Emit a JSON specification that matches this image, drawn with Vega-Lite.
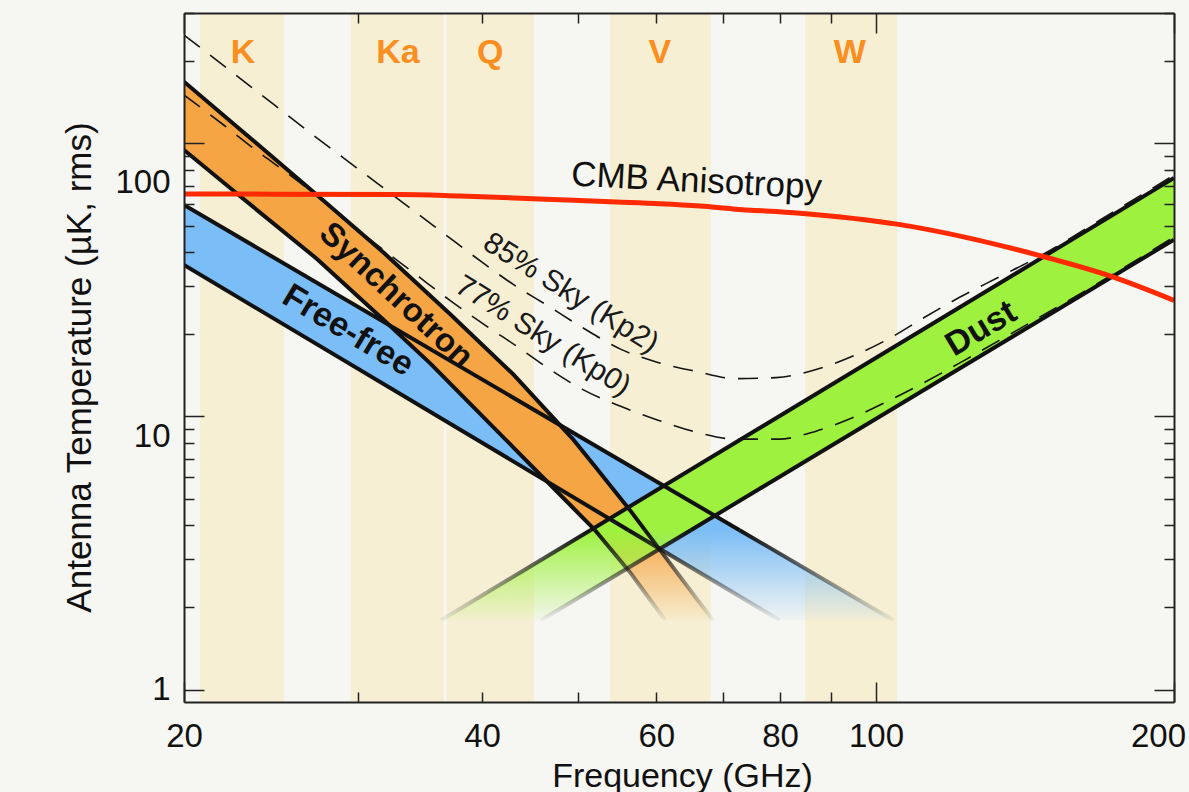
{
  "$schema": "https://vega.github.io/schema/vega-lite/v6.json",
  "width": 990,
  "height": 689,
  "autosize": "none",
  "padding": {"left": 184, "top": 13, "right": 15, "bottom": 90},
  "background": "#f6f6f2",
  "config": {"view": {"stroke": null}, "font": "Liberation Sans"},
  "datasets": {
    "bands": [
      {"band": "K", "f1": 20.76, "f2": 25.24},
      {"band": "Ka", "f1": 29.47, "f2": 36.58},
      {"band": "Q", "f1": 36.84, "f2": 45.15},
      {"band": "V", "f1": 53.88, "f2": 68.08},
      {"band": "W", "f1": 84.8, "f2": 105.0}
    ],
    "syn_area": [
      {"f": 20, "hi": 168.1, "lo": 94.5},
      {"f": 22.84, "hi": 111.7, "lo": 63.58},
      {"f": 27.25, "hi": 64.67, "lo": 37.72},
      {"f": 31.85, "hi": 39.66, "lo": 22.51},
      {"f": 35.44, "hi": 27.7, "lo": 15.67},
      {"f": 37.13, "hi": 23.7, "lo": 13.22},
      {"f": 43.09, "hi": 14.17, "lo": 7.659},
      {"f": 49.31, "hi": 8.328, "lo": 4.669},
      {"f": 52.03, "hi": 6.549, "lo": 3.832},
      {"f": 56.43, "hi": 4.537, "lo": 2.689},
      {"f": 58.44, "hi": 3.832, "lo": 2.261},
      {"f": 61.22, "hi": 3.065, "lo": 1.794},
      {"f": 68.43, "hi": 1.794, "lo": 1.794}
    ],
    "ff_area": [
      {"f": 20, "hi": 59.43, "lo": 35.83},
      {"f": 79.91, "hi": 3.146, "lo": 1.794},
      {"f": 104.13, "hi": 1.794, "lo": 1.794}
    ],
    "dust_area": [
      {"f": 36.36, "hi": 1.794, "lo": 1.794},
      {"f": 45.89, "hi": 2.984, "lo": 1.794},
      {"f": 200, "hi": 74.62, "lo": 44.39}
    ],
    "edges_solid": [
      {"edge": "syn_hi", "f": 20, "v": 168.1},
      {"edge": "syn_hi", "f": 22.84, "v": 111.7},
      {"edge": "syn_hi", "f": 27.25, "v": 64.67},
      {"edge": "syn_hi", "f": 31.85, "v": 39.66},
      {"edge": "syn_hi", "f": 35.44, "v": 27.7},
      {"edge": "syn_hi", "f": 37.13, "v": 23.7},
      {"edge": "syn_hi", "f": 43.09, "v": 14.17},
      {"edge": "syn_hi", "f": 49.31, "v": 8.328},
      {"edge": "syn_hi", "f": 52.03, "v": 6.549},
      {"edge": "syn_hi", "f": 56.43, "v": 4.537},
      {"edge": "syn_hi", "f": 58.44, "v": 3.832},
      {"edge": "syn_lo", "f": 20, "v": 94.5},
      {"edge": "syn_lo", "f": 22.84, "v": 63.58},
      {"edge": "syn_lo", "f": 27.25, "v": 37.72},
      {"edge": "syn_lo", "f": 31.85, "v": 22.51},
      {"edge": "syn_lo", "f": 35.44, "v": 15.67},
      {"edge": "syn_lo", "f": 37.13, "v": 13.22},
      {"edge": "syn_lo", "f": 43.09, "v": 7.659},
      {"edge": "syn_lo", "f": 49.31, "v": 4.669},
      {"edge": "syn_lo", "f": 52.03, "v": 3.832},
      {"edge": "ff_hi", "f": 20, "v": 59.43},
      {"edge": "ff_hi", "f": 72.82, "v": 3.832},
      {"edge": "ff_lo", "f": 20, "v": 35.83},
      {"edge": "ff_lo", "f": 56.25, "v": 3.832},
      {"edge": "dust_hi", "f": 51.47, "v": 3.832},
      {"edge": "dust_hi", "f": 200, "v": 74.62},
      {"edge": "dust_lo", "f": 65.0, "v": 3.832},
      {"edge": "dust_lo", "f": 200, "v": 44.39}
    ],
    "edges_fade": [
      {"edge": "syn_hi", "f": 58.44, "v": 3.832},
      {"edge": "syn_hi", "f": 61.22, "v": 3.065},
      {"edge": "syn_hi", "f": 68.43, "v": 1.794},
      {"edge": "syn_lo", "f": 52.03, "v": 3.832},
      {"edge": "syn_lo", "f": 56.43, "v": 2.689},
      {"edge": "syn_lo", "f": 58.44, "v": 2.261},
      {"edge": "syn_lo", "f": 61.22, "v": 1.794},
      {"edge": "ff_hi", "f": 72.82, "v": 3.832},
      {"edge": "ff_hi", "f": 104.13, "v": 1.794},
      {"edge": "ff_lo", "f": 56.25, "v": 3.832},
      {"edge": "ff_lo", "f": 79.91, "v": 1.794},
      {"edge": "dust_hi", "f": 36.36, "v": 1.794},
      {"edge": "dust_hi", "f": 51.47, "v": 3.832},
      {"edge": "dust_lo", "f": 45.89, "v": 1.794},
      {"edge": "dust_lo", "f": 65.0, "v": 3.832}
    ],
    "sky": [
      {"series": "85", "f": 20, "v": 249.3},
      {"series": "85", "f": 23.32, "v": 162.1},
      {"series": "85", "f": 27.0, "v": 107.3},
      {"series": "85", "f": 31.33, "v": 71.5},
      {"series": "85", "f": 36.45, "v": 47.3},
      {"series": "85", "f": 40.0, "v": 36.7},
      {"series": "85", "f": 43.09, "v": 30.3},
      {"series": "85", "f": 46.63, "v": 25.4},
      {"series": "85", "f": 50.47, "v": 21.2},
      {"series": "85", "f": 55.27, "v": 17.6},
      {"series": "85", "f": 60.09, "v": 15.8},
      {"series": "85", "f": 65.65, "v": 14.65},
      {"series": "85", "f": 72.21, "v": 13.75},
      {"series": "85", "f": 79.25, "v": 13.87},
      {"series": "85", "f": 86.98, "v": 14.84},
      {"series": "85", "f": 94.79, "v": 16.63},
      {"series": "85", "f": 103.31, "v": 19.36},
      {"series": "85", "f": 112.08, "v": 23.11},
      {"series": "85", "f": 121.59, "v": 27.35},
      {"series": "85", "f": 132.52, "v": 32.11},
      {"series": "85", "f": 146.45, "v": 38.66},
      {"series": "85", "f": 168.39, "v": 52.37},
      {"series": "85", "f": 200, "v": 76.5},
      {"series": "77", "f": 20, "v": 150.3},
      {"series": "77", "f": 22.0, "v": 115.7},
      {"series": "77", "f": 23.7, "v": 93.7},
      {"series": "77", "f": 25.59, "v": 76.5},
      {"series": "77", "f": 31.92, "v": 40.3},
      {"series": "77", "f": 34.55, "v": 32.4},
      {"series": "77", "f": 37.21, "v": 26.45},
      {"series": "77", "f": 40.28, "v": 21.6},
      {"series": "77", "f": 43.49, "v": 17.94},
      {"series": "77", "f": 46.63, "v": 15.03},
      {"series": "77", "f": 50.47, "v": 12.59},
      {"series": "77", "f": 55.14, "v": 10.91},
      {"series": "77", "f": 60.23, "v": 9.69},
      {"series": "77", "f": 65.8, "v": 8.76},
      {"series": "77", "f": 72.21, "v": 8.26},
      {"series": "77", "f": 79.81, "v": 8.26},
      {"series": "77", "f": 86.98, "v": 8.83},
      {"series": "77", "f": 95.01, "v": 9.94},
      {"series": "77", "f": 103.31, "v": 11.47},
      {"series": "77", "f": 112.6, "v": 13.47},
      {"series": "77", "f": 122.44, "v": 15.94},
      {"series": "77", "f": 132.82, "v": 18.87},
      {"series": "77", "f": 146.45, "v": 23.11},
      {"series": "77", "f": 168.39, "v": 31.04},
      {"series": "77", "f": 200, "v": 45.4}
    ],
    "cmb": [
      {"f": 20, "v": 65.2},
      {"f": 33.05, "v": 64.95},
      {"f": 38.0, "v": 64.1},
      {"f": 48.75, "v": 62.0},
      {"f": 54.74, "v": 61.0},
      {"f": 60.51, "v": 60.1},
      {"f": 66.41, "v": 58.9},
      {"f": 71.71, "v": 57.5},
      {"f": 83.81, "v": 55.5},
      {"f": 105.0, "v": 50.6},
      {"f": 146.4, "v": 38.8},
      {"f": 172.3, "v": 32.7},
      {"f": 200, "v": 26.6}
    ],
    "labels": [
      {"name": "K", "f": 22.95, "v": 196.9},
      {"name": "Ka", "f": 32.9, "v": 196.9},
      {"name": "Q", "f": 40.76, "v": 196.9},
      {"name": "V", "f": 60.5, "v": 196.9},
      {"name": "W", "f": 94.1, "v": 196.9},
      {"name": "CMB Anisotropy", "f": 65.8, "v": 66.3},
      {"name": "Synchrotron", "f": 32.23, "v": 26.1},
      {"name": "Free-free", "f": 28.93, "v": 19.11},
      {"name": "Dust", "f": 129.3, "v": 19.44},
      {"name": "85% Sky (Kp2)", "f": 48.65, "v": 26.5},
      {"name": "77% Sky (Kp0)", "f": 45.58, "v": 18.46}
    ]
  },
  "resolve": {"axis": {"x": "independent", "y": "independent"}},
  "layer": [
    {
      "data": {"name": "bands"},
      "mark": {"type": "rect", "color": "#f6efd4"},
      "encoding": {
        "x": {
          "field": "f1", "type": "quantitative",
          "scale": {"type": "log", "domain": [20, 200], "nice": false, "zero": false},
          "axis": {
            "orient": "bottom",
            "values": [20, 30, 40, 50, 60, 70, 80, 90, 100, 200],
            "grid": false, "zindex": 1,
            "domain": true, "domainColor": "#222", "domainWidth": 2,
            "ticks": true, "tickSize": -10, "tickWidth": 1.5, "tickColor": "#222",
            "labelExpr": "indexof([20,40,60,80,100,200], datum.value) >= 0 ? '' + datum.value : ''",
            "labelFlush": false, "labelOverlap": false, "labelBound": false,
            "labelFontSize": 33, "labelColor": "#111", "labelFont": "Liberation Sans", "labelPadding": 28,
            "title": "Frequency (GHz)", "titleFontSize": 34, "titleFontWeight": "normal", "titleColor": "#111",
            "titleFont": "Liberation Sans", "titleX": 498, "titleY": 57, "titleBaseline": "top", "titleAlign": "center",
            "encoding": {
              "ticks": {"y2": {"condition": {"test": "datum.value==20||datum.value==100||datum.value==200", "value": -20}, "value": -10}},
              "labels": {"dx": {"condition": {"test": "datum.value==200", "value": -16}, "value": 0}}
            }
          }
        },
        "x2": {"field": "f2"}
      }
    },
    {
      "data": {"name": "ff_area"},
      "mark": {
        "type": "area", "clip": true,
        "fill": {"gradient": "linear", "x1": 0, "y1": 0, "x2": 0, "y2": 1,
          "stops": [{"offset": 0, "color": "#7bbdf6"}, {"offset": 0.783, "color": "#7bbdf6"}, {"offset": 1, "color": "rgba(123,189,246,0.04)"}]}
      },
      "encoding": {
        "x": {"field": "f", "type": "quantitative", "scale": {"type": "log", "domain": [20, 200], "nice": false, "zero": false}, "axis": null},
        "y": {"field": "hi", "type": "quantitative", "scale": {"type": "log", "domain": [0.9, 300], "nice": false, "zero": false}, "axis": null},
        "y2": {"field": "lo"}
      }
    },
    {
      "data": {"name": "syn_area"},
      "mark": {
        "type": "area", "clip": true,
        "fill": {"gradient": "linear", "x1": 0, "y1": 0, "x2": 0, "y2": 1,
          "stops": [{"offset": 0, "color": "#f6a544"}, {"offset": 0.833, "color": "#f6a544"}, {"offset": 1, "color": "rgba(246,165,68,0.04)"}]}
      },
      "encoding": {
        "x": {"field": "f", "type": "quantitative", "scale": {"type": "log", "domain": [20, 200], "nice": false, "zero": false}, "axis": null},
        "y": {"field": "hi", "type": "quantitative", "scale": {"type": "log", "domain": [0.9, 300], "nice": false, "zero": false}, "axis": null},
        "y2": {"field": "lo"}
      }
    },
    {
      "data": {"name": "dust_area"},
      "mark": {
        "type": "area", "clip": true,
        "fill": {"gradient": "linear", "x1": 0, "y1": 0, "x2": 0, "y2": 1,
          "stops": [{"offset": 0, "color": "#9ef23f"}, {"offset": 0.796, "color": "#9ef23f"}, {"offset": 1, "color": "rgba(158,242,63,0.04)"}]}
      },
      "encoding": {
        "x": {"field": "f", "type": "quantitative", "scale": {"type": "log", "domain": [20, 200], "nice": false, "zero": false}, "axis": null},
        "y": {"field": "hi", "type": "quantitative", "scale": {"type": "log", "domain": [0.9, 300], "nice": false, "zero": false}, "axis": null},
        "y2": {"field": "lo"}
      }
    },
    {
      "data": {"name": "edges_solid"},
      "mark": {"type": "line", "stroke": "#111", "strokeWidth": 4, "strokeJoin": "round", "clip": true},
      "encoding": {
        "x": {"field": "f", "type": "quantitative", "scale": {"type": "log", "domain": [20, 200], "nice": false, "zero": false}, "axis": null},
        "y": {"field": "v", "type": "quantitative", "scale": {"type": "log", "domain": [0.9, 300], "nice": false, "zero": false}, "axis": null},
        "detail": {"field": "edge"}
      }
    },
    {
      "data": {"name": "edges_fade"},
      "mark": {
        "type": "line", "strokeWidth": 4, "strokeJoin": "round", "clip": true,
        "stroke": {"gradient": "linear", "x1": 0, "y1": 0, "x2": 0, "y2": 1,
          "stops": [{"offset": 0, "color": "#111111"}, {"offset": 1, "color": "rgba(17,17,17,0.04)"}]}
      },
      "encoding": {
        "x": {"field": "f", "type": "quantitative", "scale": {"type": "log", "domain": [20, 200], "nice": false, "zero": false}, "axis": null},
        "y": {"field": "v", "type": "quantitative", "scale": {"type": "log", "domain": [0.9, 300], "nice": false, "zero": false}, "axis": null},
        "detail": {"field": "edge"}
      }
    },
    {
      "data": {"name": "sky"},
      "mark": {"type": "line", "stroke": "#151515", "strokeWidth": 1.6, "strokeDash": [20, 13], "interpolate": "monotone", "clip": true},
      "encoding": {
        "x": {"field": "f", "type": "quantitative", "scale": {"type": "log", "domain": [20, 200], "nice": false, "zero": false}, "axis": null},
        "y": {
          "field": "v", "type": "quantitative",
          "scale": {"type": "log", "domain": [0.9, 300], "nice": false, "zero": false},
          "axis": {
            "orient": "right",
            "values": [1, 2, 3, 4, 5, 6, 7, 8, 9, 10, 20, 30, 40, 50, 60, 70, 80, 90, 100, 200, 300],
            "grid": false, "zindex": 1, "labels": false, "title": null,
            "domain": true, "domainColor": "#222", "domainWidth": 2,
            "tickSize": -10, "tickWidth": 1.5, "tickColor": "#222",
            "encoding": {"ticks": {"x2": {"condition": {"test": "datum.value==1||datum.value==10||datum.value==100", "value": -20}, "value": -10}}}
          }
        },
        "detail": {"field": "series"}
      }
    },
    {
      "data": {"name": "cmb"},
      "mark": {"type": "line", "stroke": "#ff2a00", "strokeWidth": 5, "interpolate": "monotone", "clip": true},
      "encoding": {
        "x": {
          "field": "f", "type": "quantitative",
          "scale": {"type": "log", "domain": [20, 200], "nice": false, "zero": false},
          "axis": {
            "orient": "top",
            "values": [20, 30, 40, 50, 60, 70, 80, 90, 100, 200],
            "grid": false, "zindex": 1, "labels": false, "title": null,
            "domain": true, "domainColor": "#222", "domainWidth": 2,
            "tickSize": -10, "tickWidth": 1.5, "tickColor": "#222",
            "encoding": {"ticks": {"y2": {"condition": {"test": "datum.value==20||datum.value==100||datum.value==200", "value": 20}, "value": 10}}}
          }
        },
        "y": {
          "field": "v", "type": "quantitative",
          "scale": {"type": "log", "domain": [0.9, 300], "nice": false, "zero": false},
          "axis": {
            "orient": "left",
            "values": [1, 2, 3, 4, 5, 6, 7, 8, 9, 10, 20, 30, 40, 50, 60, 70, 80, 90, 100, 200, 300],
            "grid": false, "zindex": 1,
            "domain": true, "domainColor": "#222", "domainWidth": 2,
            "tickSize": -10, "tickWidth": 1.5, "tickColor": "#222",
            "labelExpr": "indexof([1,10,100], datum.value) >= 0 ? '' + datum.value : ''",
            "labelOverlap": false, "labelBound": false,
            "labelFontSize": 33, "labelColor": "#111", "labelFont": "Liberation Sans", "labelPadding": 24,
            "title": "Antenna Temperature (µK, rms)", "titleFontSize": 35, "titleFontWeight": "normal", "titleColor": "#111",
            "titleFont": "Liberation Sans", "titleX": -105, "titleY": 354, "titleBaseline": "middle", "titleAlign": "center", "titleAngle": -90,
            "encoding": {
              "ticks": {"x2": {"condition": {"test": "datum.value==1||datum.value==10||datum.value==100", "value": 20}, "value": 10}},
              "labels": {"dy": {"condition": [{"test": "datum.value==10", "value": 20}, {"test": "datum.value==100", "value": 39}], "value": 0}}
            }
          }
        }
      }
    },
    {
      "data": {"name": "labels"},
      "transform": [{"filter": {"field": "name", "oneOf": ["K", "Ka", "Q", "V", "W"]}}],
      "mark": {"type": "text", "font": "Liberation Sans", "fontSize": 34, "fontWeight": "bold", "color": "#fa8e1f", "align": "center", "baseline": "alphabetic"},
      "encoding": {
        "x": {"field": "f", "type": "quantitative", "scale": {"type": "log", "domain": [20, 200], "nice": false, "zero": false}, "axis": null},
        "y": {"field": "v", "type": "quantitative", "scale": {"type": "log", "domain": [0.9, 300], "nice": false, "zero": false}, "axis": null},
        "text": {"field": "name"}
      }
    },
    {
      "data": {"name": "labels"},
      "transform": [{"filter": {"field": "name", "oneOf": ["CMB Anisotropy"]}}],
      "mark": {"type": "text", "font": "Liberation Sans", "fontSize": 35, "color": "#111", "align": "center", "baseline": "alphabetic", "angle": 3},
      "encoding": {
        "x": {"field": "f", "type": "quantitative", "scale": {"type": "log", "domain": [20, 200], "nice": false, "zero": false}, "axis": null},
        "y": {"field": "v", "type": "quantitative", "scale": {"type": "log", "domain": [0.9, 300], "nice": false, "zero": false}, "axis": null},
        "text": {"field": "name"}
      }
    },
    {
      "data": {"name": "labels"},
      "transform": [{"filter": {"field": "name", "oneOf": ["Synchrotron"]}}],
      "mark": {"type": "text", "font": "Liberation Sans", "fontSize": 33, "fontWeight": "bold", "color": "#111", "align": "center", "baseline": "alphabetic", "angle": 43},
      "encoding": {
        "x": {"field": "f", "type": "quantitative", "scale": {"type": "log", "domain": [20, 200], "nice": false, "zero": false}, "axis": null},
        "y": {"field": "v", "type": "quantitative", "scale": {"type": "log", "domain": [0.9, 300], "nice": false, "zero": false}, "axis": null},
        "text": {"field": "name"}
      }
    },
    {
      "data": {"name": "labels"},
      "transform": [{"filter": {"field": "name", "oneOf": ["Free-free"]}}],
      "mark": {"type": "text", "font": "Liberation Sans", "fontSize": 34, "fontWeight": "bold", "color": "#111", "align": "center", "baseline": "alphabetic", "angle": 31},
      "encoding": {
        "x": {"field": "f", "type": "quantitative", "scale": {"type": "log", "domain": [20, 200], "nice": false, "zero": false}, "axis": null},
        "y": {"field": "v", "type": "quantitative", "scale": {"type": "log", "domain": [0.9, 300], "nice": false, "zero": false}, "axis": null},
        "text": {"field": "name"}
      }
    },
    {
      "data": {"name": "labels"},
      "transform": [{"filter": {"field": "name", "oneOf": ["Dust"]}}],
      "mark": {"type": "text", "font": "Liberation Sans", "fontSize": 34, "fontWeight": "bold", "color": "#111", "align": "center", "baseline": "alphabetic", "angle": -31},
      "encoding": {
        "x": {"field": "f", "type": "quantitative", "scale": {"type": "log", "domain": [20, 200], "nice": false, "zero": false}, "axis": null},
        "y": {"field": "v", "type": "quantitative", "scale": {"type": "log", "domain": [0.9, 300], "nice": false, "zero": false}, "axis": null},
        "text": {"field": "name"}
      }
    },
    {
      "data": {"name": "labels"},
      "transform": [{"filter": {"field": "name", "oneOf": ["85% Sky (Kp2)", "77% Sky (Kp0)"]}}],
      "mark": {"type": "text", "font": "Liberation Sans", "fontSize": 30, "color": "#1a1a1a", "align": "center", "baseline": "alphabetic", "angle": 32},
      "encoding": {
        "x": {"field": "f", "type": "quantitative", "scale": {"type": "log", "domain": [20, 200], "nice": false, "zero": false}, "axis": null},
        "y": {"field": "v", "type": "quantitative", "scale": {"type": "log", "domain": [0.9, 300], "nice": false, "zero": false}, "axis": null},
        "text": {"field": "name"}
      }
    }
  ]
}
